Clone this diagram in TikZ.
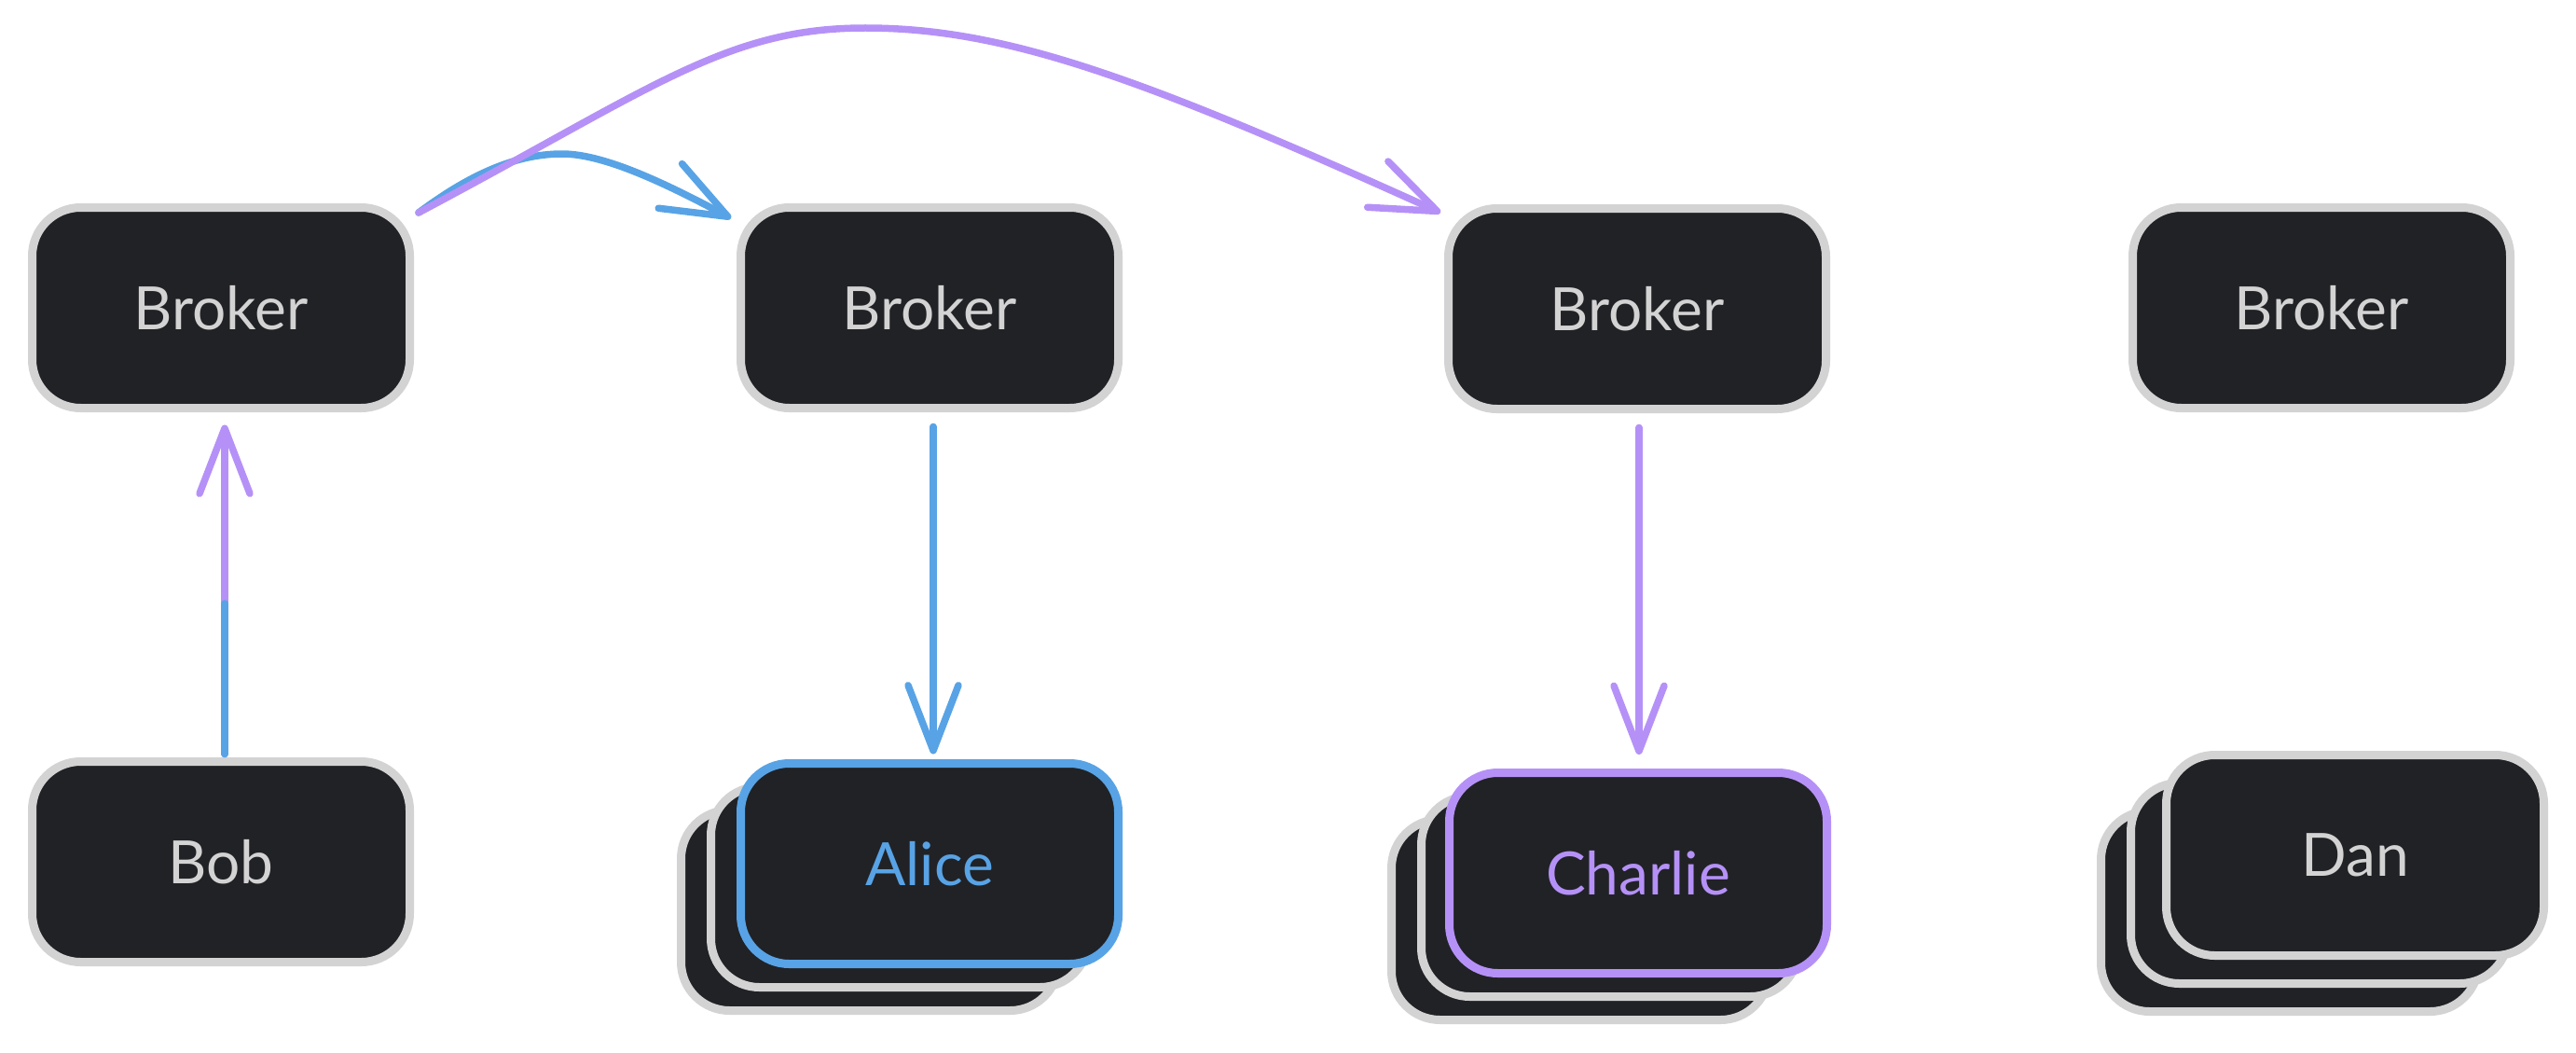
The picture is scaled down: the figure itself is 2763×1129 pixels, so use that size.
\documentclass[tikz,border=0pt]{standalone}
\usepackage{fontspec}
\setmainfont{Lato}
\usetikzlibrary{arrows.meta}
\definecolor{boxfill}{HTML}{212226}
\definecolor{edgegray}{HTML}{D3D3D3}
\definecolor{skblue}{HTML}{58A3E5}
\definecolor{skpurple}{HTML}{B591F7}
\begin{document}
\begin{tikzpicture}[x=0.5pt,y=-0.5pt,
  card/.style={draw=edgegray, fill=boxfill, line width=4.5pt, rounded corners=26pt,
    minimum width=202.5pt, minimum height=107.5pt, inner sep=0pt, outer sep=0pt,
    text=edgegray, font=\fontsize{32}{38}\selectfont},
  conn/.style={line width=3.75pt, line cap=round, line join=round,
    -{Straight Barb[length=35pt,width=27pt,round]}},
  plainline/.style={line width=3.75pt, line cap=round}]
\useasboundingbox (0,0) rectangle (2763,1129);
% top row brokers
\node[card] (b1) at (237,330) {Broker};
\node[card] (b2) at (997,330) {Broker};
\node[card] (b3) at (1756,331) {Broker};
\node[card] (b4) at (2490,330) {Broker};
% bottom row
\node[card] (bob) at (237,924) {Bob};
\node[card] (aliceback) at (933,976) {};
\node[card] (alicemid) at (965,951) {};
\node[card, draw=skblue, text=skblue] (alice) at (997,926) {Alice};
\node[card] (charlieback) at (1695,986) {};
\node[card] (charliemid) at (1727,961) {};
\node[card, draw=skpurple, text=skpurple] (charlie) at (1757,936) {Charlie};
\node[card] (danback) at (2456,977) {};
\node[card] (danmid) at (2488,947) {};
\node[card] (dan) at (2526,917) {Dan};
% helper coordinates
\coordinate (bobmid) at (241,647);
\coordinate (bluetop) at (603,165);
\coordinate (purpletop) at (928,30);
% Bob -> Broker 1
\draw[conn, draw=skpurple] ([xshift=2pt,yshift=4pt]bob.north) -- ([xshift=2pt,yshift=-9pt]b1.south);
\draw[plainline, draw=skblue] ([xshift=2pt,yshift=4pt]bob.north) -- (bobmid);
% Broker 1 -> Broker 2 (blue)
\draw[conn, draw=skblue] ([xshift=4.75pt,yshift=-2.75pt]b1.north east)
  .. controls (500,190) and (550,165) .. (bluetop)
  .. controls (650,165) and (720,200) .. ([xshift=-5.25pt,yshift=-5.75pt]b2.north west);
% Broker 1 -> Broker 3 (purple)
\draw[conn, draw=skpurple] ([xshift=4.75pt,yshift=-2.75pt]b1.north east)
  .. controls (700,95) and (778,30) .. (purpletop)
  .. controls (1078,30) and (1224,83) .. ([xshift=-4.25pt,yshift=-2.25pt]b3.north west);
% Broker 2 -> Alice
\draw[conn, draw=skblue] ([xshift=2pt,yshift=-10pt]b2.south) -- ([xshift=2pt,yshift=5pt]alice.north);
% Broker 3 -> Charlie
\draw[conn, draw=skpurple] ([xshift=1pt,yshift=-10pt]b3.south) -- ([xshift=0.5pt,yshift=9.75pt]charlie.north);
\end{tikzpicture}
\end{document}
